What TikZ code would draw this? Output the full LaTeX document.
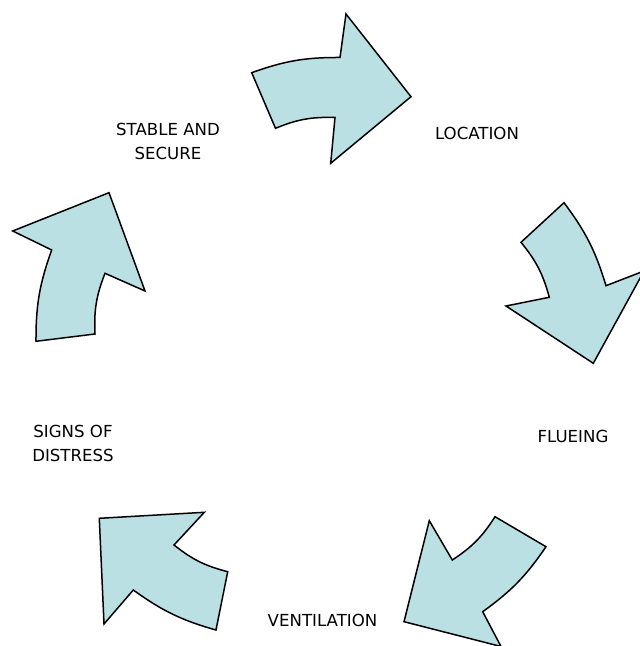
\documentclass[tikz,border=0pt]{standalone}
\usepackage{fontspec}
\setmainfont{DejaVu Sans}
\definecolor{arrowfill}{RGB}{187,224,227}
\begin{document}
\begin{tikzpicture}[x=1pt,y=1pt,
  cyclearrow/.style={fill=arrowfill, draw=black, line width=1.5pt, line join=miter},
  steplabel/.style={font=\fontsize{16.6}{24}\selectfont, align=center, text=black, inner sep=0pt}]
\useasboundingbox (0,0) rectangle (640,646);
\clip (0,0) rectangle (640,646);

% stable and secure -> location
\draw[cyclearrow] (251.7,573.3) to[bend left=10] (340,588.5) -- (346,632) -- (411,549.3)
  -- (330.7,482.7) -- (335,528.5) to[bend right=12] (275.5,517.7) -- cycle;
% location -> flueing
\draw[cyclearrow] (564,443.3) to[bend left=10] (606,360.3) -- (644,375) -- (593.3,282.7)
  -- (506,340) -- (549.3,348.7) to[bend right=12] (521,403.7) -- cycle;
% flueing -> ventilation
\draw[cyclearrow] (546,99.3) to[bend left=10] (482.7,34.3) -- (501,-0.5) -- (404,24.3)
  -- (429.3,125.3) -- (452.3,86) to[bend right=12] (495,129.3) -- cycle;
% ventilation -> signs of distress
\draw[cyclearrow] (216,16) to[bend left=10] (133.3,56) -- (104,22) -- (99.3,127.7)
  -- (204.3,133.7) -- (174,101) to[bend right=12] (227.7,74.3) -- cycle;
% signs of distress -> stable and secure
\draw[cyclearrow] (36,304.7) to[bend left=10] (51.7,396) -- (12.7,415) -- (109,453.3)
  -- (145,355) -- (105,372.7) to[bend right=12] (95,312) -- cycle;

\node[steplabel] (location) at (477,513) {LOCATION};
\node[steplabel] (flueing) at (573,210) {FLUEING};
\node[steplabel] (ventilation) at (322.5,26) {VENTILATION};
\node[steplabel] (distress) at (73,203) {SIGNS OF\\DISTRESS};
\node[steplabel] (stable) at (168,505) {STABLE AND\\SECURE};
\end{tikzpicture}
\end{document}
